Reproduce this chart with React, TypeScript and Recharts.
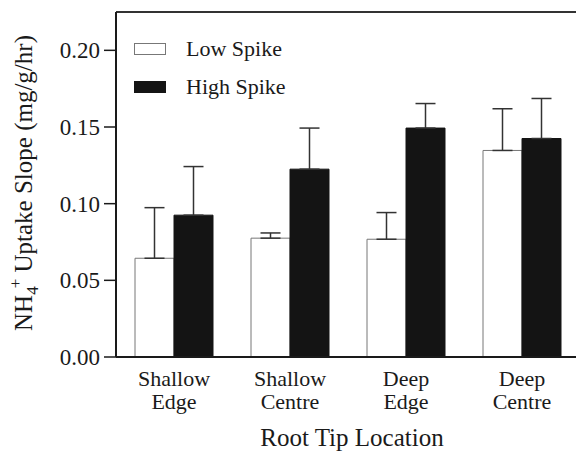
import React from "react";
import {
  BarChart,
  Bar,
  XAxis,
  YAxis,
  ErrorBar,
  Legend,
  ReferenceLine,
} from "recharts";

const categories = [
  ["Shallow", "Edge"],
  ["Shallow", "Centre"],
  ["Deep", "Edge"],
  ["Deep", "Centre"],
];
const lowSpike = [0.0644, 0.0775, 0.0768, 0.1347];
const lowSpikeErr = [0.033, 0.0034, 0.0174, 0.0272];
const highSpike = [0.0925, 0.1225, 0.1493, 0.1425];
const highSpikeErr = [0.0317, 0.0268, 0.016, 0.0261];
const yTicks = [0, 0.05, 0.1, 0.15, 0.2];

const data = categories.map((c, i) => ({
  name: c.join(" "),
  lines: c,
  low: lowSpike[i],
  lowErr: [0, lowSpikeErr[i]],
  high: highSpike[i],
  highErr: [0, highSpikeErr[i]],
}));

const FONT = "'Liberation Serif', 'Times New Roman', serif";
const INK = "#1a1a1a";

function CategoryTick(props: any) {
  const { x, y, payload } = props;
  const lines = data[payload.index]?.lines ?? [payload.value];
  return (
    <text x={x} y={y} textAnchor="middle" fontFamily={FONT} fontSize={22} fill={INK}>
      {lines.map((l: string, i: number) => (
        <tspan key={i} x={x} dy={i === 0 ? 29 : 23}>
          {l}
        </tspan>
      ))}
    </text>
  );
}

function XTitle(props: any) {
  const { viewBox } = props;
  const cx = viewBox.x + viewBox.width / 2 + 4;
  return (
    <text x={cx} y={446} textAnchor="middle" fontFamily={FONT} fontSize={25} fill={INK}>
      Root Tip Location
    </text>
  );
}

function YTitle() {
  const x = 32;
  const y = 183;
  return (
    <text
      x={x}
      y={y}
      transform={`rotate(-90, ${x}, ${y})`}
      textAnchor="middle"
      fontFamily={FONT}
      fontSize={25}
      fill={INK}
    >
      <tspan>NH</tspan>
      <tspan fontSize={17} dy={6}>4</tspan>
      <tspan fontSize={17} dy={-17} dx={-2}>+</tspan>
      <tspan dy={11}> Uptake Slope (mg/g/hr)</tspan>
    </text>
  );
}

function LegendBox() {
  const items = [
    { label: "Low Spike", fill: "#ffffff", border: "#777" },
    { label: "High Spike", fill: "#141414", border: "#141414" },
  ];
  return (
    <div style={{ fontFamily: FONT, fontSize: 22, color: INK }}>
      {items.map((it) => (
        <div key={it.label} style={{ display: "flex", alignItems: "center", height: 38 }}>
          <span
            style={{
              display: "inline-block",
              boxSizing: "border-box",
              width: 32,
              height: 12,
              background: it.fill,
              border: `1px solid ${it.border}`,
              marginRight: 20,
            }}
          />
          <span>{it.label}</span>
        </div>
      ))}
    </div>
  );
}

export default function App() {
  return (
    <div
      style={{
        position: "fixed",
        left: 0,
        top: 0,
        width: 576,
        height: 451,
        overflow: "hidden",
        background: "#fff",
      }}
    >
      <BarChart
        width={580}
        height={451}
        data={data}
        margin={{ top: 12, right: 0, left: 0, bottom: 0 }}
        barCategoryGap={19}
        barGap={0}
      >
        <XAxis
          dataKey="name"
          height={94}
          tickLine={false}
          tickSize={0}
          tickMargin={0}
          interval={0}
          axisLine={{ stroke: INK, strokeWidth: 2 }}
          tick={<CategoryTick />}
          label={<XTitle />}
        />
        <YAxis
          width={116}
          domain={[0, 0.225]}
          ticks={yTicks}
          tickFormatter={(v: number) => v.toFixed(2)}
          tickSize={12}
          tickMargin={4}
          axisLine={{ stroke: INK, strokeWidth: 2 }}
          tickLine={{ stroke: INK, strokeWidth: 1.5 }}
          tick={{ fontFamily: FONT, fontSize: 23, fill: INK }}
          label={<YTitle />}
        />
        <ReferenceLine y={0.225} stroke="#333" strokeWidth={2} />
        <Legend
          layout="vertical"
          align="center"
          verticalAlign="middle"
          wrapperStyle={{ left: 134, top: 30, width: 200 }}
          content={<LegendBox />}
        />
        <Bar dataKey="low" name="Low Spike" fill="#ffffff" stroke="#777" strokeWidth={1} isAnimationActive={false}>
          <ErrorBar dataKey="lowErr" width={10} stroke="#333" strokeWidth={1.5} direction="y" />
        </Bar>
        <Bar dataKey="high" name="High Spike" fill="#141414" stroke="#141414" strokeWidth={1} isAnimationActive={false}>
          <ErrorBar dataKey="highErr" width={10} stroke="#333" strokeWidth={1.5} direction="y" />
        </Bar>
      </BarChart>
    </div>
  );
}
